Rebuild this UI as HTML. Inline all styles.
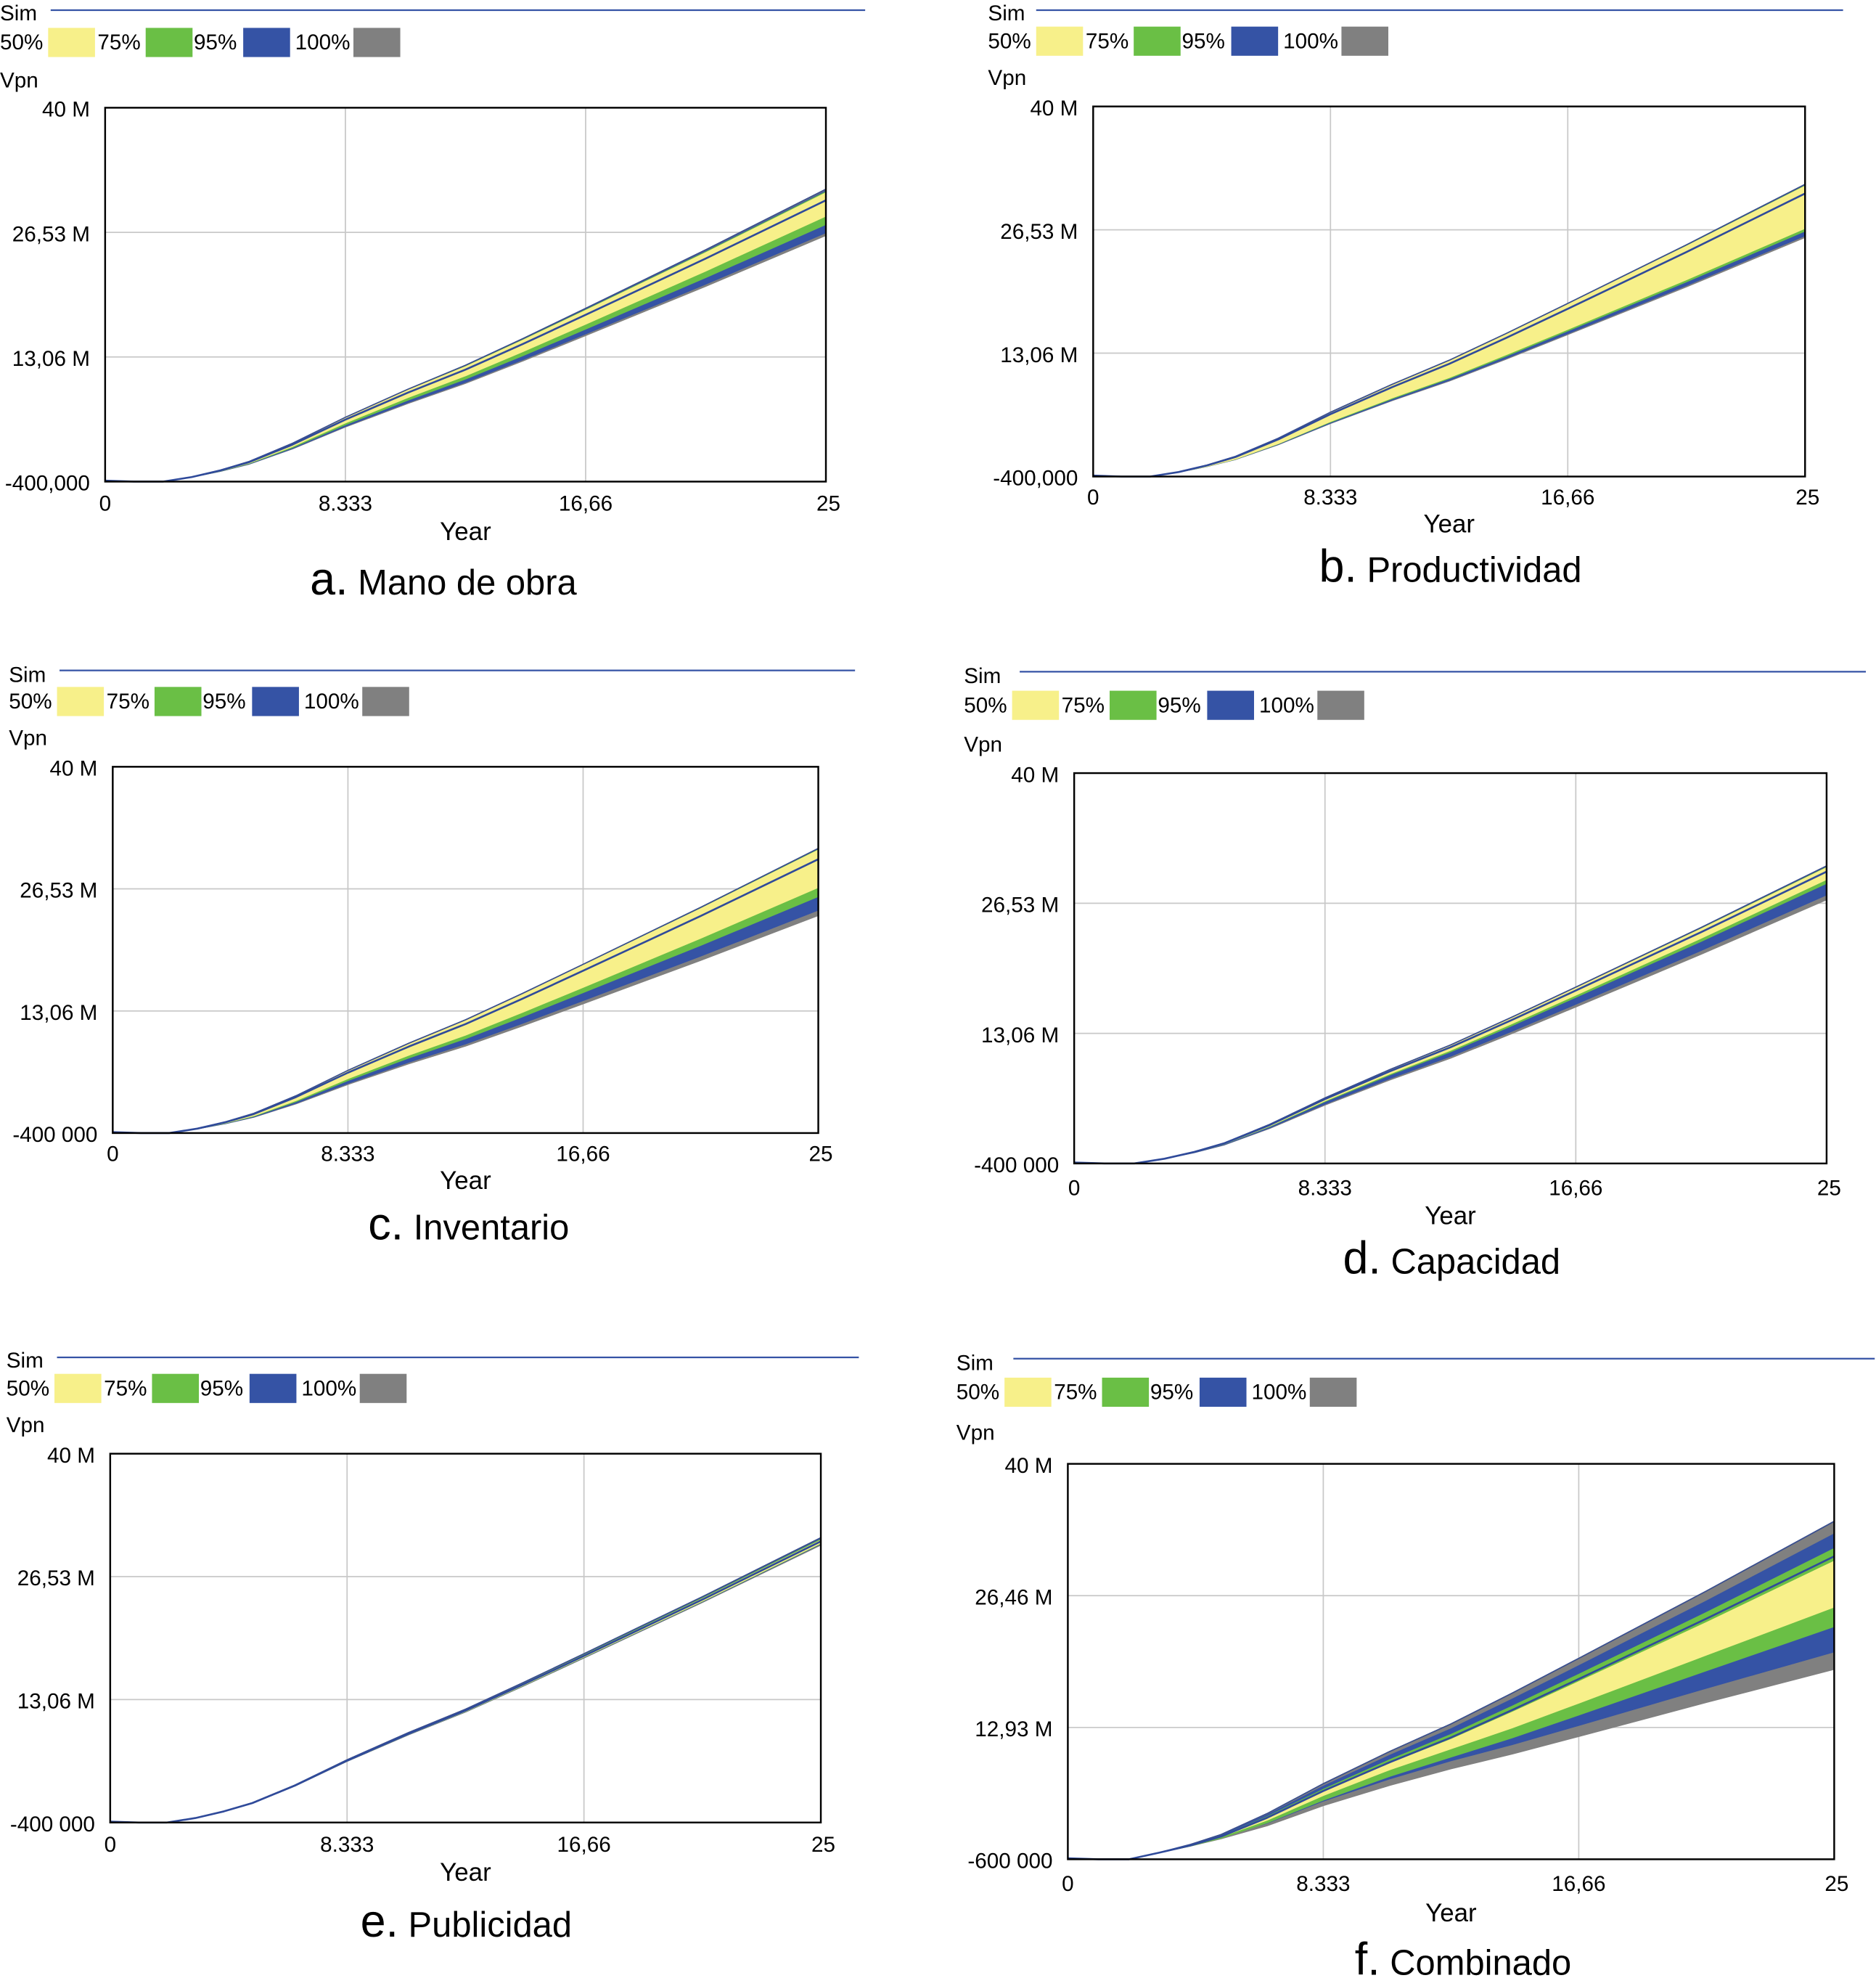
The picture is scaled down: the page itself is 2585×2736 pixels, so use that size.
<!DOCTYPE html>
<html><head><meta charset="utf-8"><style>
html,body{margin:0;padding:0;background:#fff;}
svg{display:block;font-family:"Liberation Sans",sans-serif;}
</style></head><body>
<svg id="root" width="2585" height="2736" viewBox="0 0 1481 1567" preserveAspectRatio="none" xmlns="http://www.w3.org/2000/svg"></svg>
<script>
const years=[0,1,2,3,4,5,6.5,8.333,10.5,12.5,14.5,16.66,20.83,25];
const xTickLabels=["0","8.333","16,66","25"];
const legendLabels=["50%","75%","95%","100%"];
// Panel a
const aHi100=[-0.3,-0.4,-0.4,.09,.84,1.78,3.74,6.55,9.58,12.17,15.07,18.31,24.65,31.2];
const aHi95=[-0.3,-0.4,-0.4,.09,.84,1.77,3.72,6.51,9.52,12.09,14.97,18.2,24.49,31];
const aHi75=[-0.3,-0.4,-0.4,.09,.83,1.76,3.71,6.49,9.49,12.05,14.92,18.14,24.41,30.9];
const aHi50=[-0.3,-0.4,-0.4,.09,.83,1.76,3.7,6.47,9.46,12.01,14.88,18.08,24.33,30.8];
const aLo50=[-0.3,-0.4,-0.4,.08,.76,1.61,3.4,5.94,8.69,11.04,13.67,16.61,22.36,28.3];
const aLo75=[-0.3,-0.4,-0.4,.08,.74,1.56,3.29,5.75,8.41,10.69,13.23,16.08,21.65,27.4];
const aLo95=[-0.3,-0.4,-0.4,.08,.72,1.51,3.18,5.57,8.14,10.34,12.8,15.56,20.94,26.5];
const aLo100=[-0.3,-0.4,-0.4,.08,.71,1.49,3.14,5.5,8.04,10.22,12.65,15.38,20.7,26.2];
const aMean=[-0.3,-0.4,-0.4,.09,.81,1.71,3.6,6.3,9.21,11.7,14.49,17.61,23.7,30];
// Panel b
const bHi100=[-0.3,-0.4,-0.4,.09,.85,1.8,3.78,6.62,9.67,12.29,15.21,18.49,24.89,31.5];
const bHi95=[-0.3,-0.4,-0.4,.09,.85,1.79,3.77,6.59,9.64,12.25,15.17,18.43,24.81,31.4];
const bHi75=[-0.3,-0.4,-0.4,.09,.85,1.79,3.76,6.58,9.62,12.23,15.14,18.4,24.77,31.35];
const bHi50=[-0.3,-0.4,-0.4,.09,.85,1.78,3.76,6.57,9.61,12.21,15.12,18.37,24.73,31.3];
const bLo50=[-0.3,-0.4,-0.4,.08,.72,1.52,3.2,5.61,8.2,10.41,12.9,15.67,21.09,26.7];
const bLo75=[-0.3,-0.4,-0.4,.08,.71,1.5,3.17,5.54,8.1,10.3,12.75,15.5,20.86,26.4];
const bLo95=[-0.3,-0.4,-0.4,.08,.7,1.48,3.11,5.44,7.95,10.1,12.51,15.2,20.46,25.9];
const bLo100=[-0.3,-0.4,-0.4,.08,.69,1.46,3.08,5.4,7.89,10.02,12.41,15.09,20.3,25.7];
const bMean=[-0.3,-0.4,-0.4,.09,.82,1.74,3.66,6.41,9.36,11.9,14.73,17.9,24.1,30.5];
// Panel c
const cHi100=[-0.3,-0.4,-0.4,.09,.84,1.77,3.72,6.51,9.52,12.09,14.97,18.2,24.49,31];
const cHi95=[-0.3,-0.4,-0.4,.09,.83,1.76,3.71,6.49,9.49,12.05,14.92,18.14,24.41,30.9];
const cHi75=[-0.3,-0.4,-0.4,.09,.83,1.76,3.7,6.48,9.47,12.03,14.9,18.11,24.37,30.85];
const cHi50=[-0.3,-0.4,-0.4,.09,.83,1.76,3.7,6.47,9.46,12.01,14.88,18.08,24.33,30.8];
const cLo50=[-0.3,-0.4,-0.4,.08,.72,1.52,3.2,5.61,8.2,10.41,12.9,15.67,21.09,26.7];
const cLo75=[-0.3,-0.4,-0.4,.08,.69,1.46,3.08,5.4,7.89,10.02,12.41,15.09,20.3,25.7];
const cLo95=[-0.3,-0.4,-0.4,.07,.65,1.38,2.9,5.08,7.43,9.44,11.69,14.21,19.12,24.2];
const cLo100=[-0.3,-0.4,-0.4,.07,.64,1.35,2.83,4.96,7.25,9.2,11.4,13.85,18.64,23.6];
const cMean=[-0.3,-0.4,-0.4,.09,.8,1.7,3.58,6.26,9.15,11.62,14.39,17.49,23.54,29.8];
// Panel d
const dHi100=[-0.3,-0.4,-0.4,.09,.82,1.73,3.65,6.38,9.33,11.86,14.68,17.84,24.02,30.4];
const dHi95=[-0.3,-0.4,-0.4,.09,.82,1.73,3.64,6.36,9.3,11.82,14.63,17.79,23.94,30.3];
const dHi75=[-0.3,-0.4,-0.4,.09,.82,1.72,3.63,6.35,9.29,11.8,14.61,17.76,23.9,30.25];
const dHi50=[-0.3,-0.4,-0.4,.09,.82,1.72,3.62,6.34,9.27,11.78,14.59,17.73,23.86,30.2];
const dLo50=[-0.3,-0.4,-0.4,.09,.78,1.65,3.48,6.09,8.9,11.31,14.01,17.02,22.91,29];
const dLo75=[-0.3,-0.4,-0.4,.09,.77,1.63,3.43,6.01,8.78,11.15,13.81,16.79,22.59,28.6];
const dLo95=[-0.3,-0.4,-0.4,.08,.74,1.56,3.29,5.75,8.41,10.69,13.23,16.08,21.65,27.4];
const dLo100=[-0.3,-0.4,-0.4,.08,.73,1.53,3.23,5.65,8.26,10.49,12.99,15.79,21.25,26.9];
const dMean=[-0.3,-0.4,-0.4,.09,.8,1.7,3.58,6.26,9.15,11.62,14.39,17.49,23.54,29.8];
// Panel e
const eHi100=[-0.3,-0.4,-0.4,.09,.83,1.76,3.7,6.47,9.46,12.01,14.88,18.08,24.33,30.8];
const eHi95=[-0.3,-0.4,-0.4,.09,.83,1.75,3.68,6.45,9.42,11.97,14.83,18.02,24.25,30.7];
const eHi75=[-0.3,-0.4,-0.4,.09,.83,1.74,3.67,6.43,9.39,11.93,14.78,17.96,24.17,30.6];
const eHi50=[-0.3,-0.4,-0.4,.09,.82,1.74,3.66,6.41,9.36,11.9,14.73,17.9,24.1,30.5];
const eLo50=[-0.3,-0.4,-0.4,.09,.82,1.72,3.62,6.34,9.27,11.78,14.59,17.73,23.86,30.2];
const eLo75=[-0.3,-0.4,-0.4,.09,.81,1.72,3.62,6.33,9.26,11.76,14.56,17.7,23.82,30.15];
const eLo95=[-0.3,-0.4,-0.4,.09,.81,1.72,3.61,6.32,9.24,11.74,14.54,17.67,23.78,30.1];
const eLo100=[-0.3,-0.4,-0.4,.09,.81,1.71,3.6,6.3,9.21,11.7,14.49,17.61,23.7,30];
const eMean=[-0.3,-0.4,-0.4,.09,.82,1.73,3.65,6.38,9.33,11.86,14.68,17.84,24.02,30.4];
// Panel f
const fHi100=[-0.5,-0.6,-0.6,.1,.92,1.94,4.09,7.16,10.47,13.3,16.47,20.02,26.94,34.1];
const fHi95=[-0.5,-0.6,-0.6,.1,.89,1.87,3.94,6.89,10.07,12.79,15.84,19.25,25.91,32.8];
const fHi75=[-0.5,-0.6,-0.6,.09,.85,1.78,3.76,6.57,9.61,12.21,15.12,18.37,24.73,31.3];
const fHi50=[-0.5,-0.6,-0.6,.09,.81,1.71,3.6,6.3,9.21,11.7,14.49,17.61,23.7,30];
const fLo50=[-0.5,-0.6,-0.6,.1,.83,1.72,3.42,5.95,8.6,10.75,12.9,15.43,20.37,25.3];
const fLo75=[-0.5,-0.6,-0.6,.09,.77,1.58,3.15,5.48,7.92,9.9,11.88,14.21,18.76,23.3];
const fLo95=[-0.5,-0.6,-0.6,.1,.83,1.66,3.11,5.38,7.66,9.52,11.18,13.14,16.97,20.7];
const fLo100=[-0.5,-0.6,-0.6,.09,.76,1.51,2.84,4.91,6.99,8.69,10.21,12.0,15.5,18.9];
const fMean=[-0.5,-0.6,-0.6,.09,.82,1.74,3.66,6.41,9.36,11.9,14.73,17.9,24.1,30.5];
const yMinAB=-0.4, yMinF=-0.6, yMax=40;
const yTickA=["40 M","26,53 M","13,06 M","-400,000"];
const yTickC=["40 M","26,53 M","13,06 M","-400 000"];
const yTickF=["40 M","26,46 M","12,93 M","-600 000"];

const panels=[
 {id:"a",cap:"Mano de obra",sx:0,sy:9,lx:40,lx2:683,ly:8,ley:33,vy:63,px:83,px2:652,py:85,py2:380,xl:397,yr:419,cx:350,cy:459,yt:yTickA,ymin:yMinAB,
  d:[aHi100,aHi95,aHi75,aHi50,aLo50,aLo75,aLo95,aLo100,aMean]},
 {id:"b",cap:"Productividad",sx:780,sy:9,lx:818,lx2:1455,ly:8,ley:32,vy:61,px:863,px2:1425,py:84,py2:376,xl:392,yr:413,cx:1145,cy:449,yt:yTickA,ymin:yMinAB,
  d:[bHi100,bHi95,bHi75,bHi50,bLo50,bLo75,bLo95,bLo100,bMean]},
 {id:"c",cap:"Inventario",sx:7,sy:531,lx:47,lx2:675,ly:529,ley:553,vy:582,px:89,px2:646,py:605,py2:894,xl:910,yr:931,cx:370,cy:968,yt:yTickC,ymin:yMinAB,
  d:[cHi100,cHi95,cHi75,cHi50,cLo50,cLo75,cLo95,cLo100,cMean]},
 {id:"d",cap:"Capacidad",sx:761,sy:532,lx:805,lx2:1473,ly:530,ley:556,vy:587,px:848,px2:1442,py:610,py2:918,xl:937,yr:959,cx:1146,cy:995,yt:yTickC,ymin:yMinAB,
  d:[dHi100,dHi95,dHi75,dHi50,dLo50,dLo75,dLo95,dLo100,dMean]},
 {id:"e",cap:"Publicidad",sx:5,sy:1072,lx:45,lx2:678,ly:1071,ley:1095,vy:1124,px:87,px2:648,py:1147,py2:1438,xl:1455,yr:1477,cx:368,cy:1518,yt:yTickC,ymin:yMinAB,
  d:[eHi100,eHi95,eHi75,eHi50,eLo50,eLo75,eLo95,eLo100,eMean]},
 {id:"f",cap:"Combinado",sx:755,sy:1074,lx:800,lx2:1480,ly:1072,ley:1098,vy:1130,px:843,px2:1448,py:1155,py2:1467,xl:1486,yr:1509,cx:1155,cy:1548,yt:yTickF,ymin:yMinF,
  d:[fHi100,fHi95,fHi75,fHi50,fLo50,fLo75,fLo95,fLo100,fMean]}
];
const NS="http://www.w3.org/2000/svg";
const root=document.getElementById("root");
function mk(tag,attrs,parent,txt){const e=document.createElementNS(NS,tag);for(const k in attrs)e.setAttribute(k,attrs[k]);if(txt!=null)e.textContent=txt;parent.appendChild(e);return e;}
const colors=["#808080","#3553a5","#6abf45","#f7f08a"];
const legColors=["#f7f08a","#6abf45","#3553a5","#808080"];
panels.forEach(p=>{
 const g=mk("g",{},root);
 
 
 const sim=mk("text",{x:p.sx,y:p.sy+7,"font-size":17},g,"Sim");
 
 
 const sl=mk("line",{x1:p.lx,x2:p.lx2,y1:p.ly,y2:p.ly,stroke:"#3553a5","stroke-width":1.3},g);
 
 
 const offs=[0,77,153,233], boxOffs=[38,115,192,279];
 legendLabels.forEach((l,i)=>{
  const t=mk("text",{x:p.sx+offs[i],y:p.ley+6,"font-size":17},g,l);
  
  
  const r=mk("rect",{x:p.sx+boxOffs[i],y:p.ley-11,width:37,height:23,fill:legColors[i]},g);
  
  
 });
 const vpn=mk("text",{x:p.sx,y:p.vy+6,"font-size":17},g,"Vpn");
 
 
 const X=v=>p.px+(v-0)/(25-0)*(p.px2-p.px);
 const Y=v=>p.py2-(v-p.ymin)/(yMax-p.ymin)*(p.py2-p.py);
 for(let i=1;i<3;i++){
  const gx=p.px+i*(p.px2-p.px)/3, gy=p.py+i*(p.py2-p.py)/3;
  const l1=mk("line",{x1:gx,x2:gx,y1:p.py,y2:p.py2,stroke:"#c8c8c8","stroke-width":1},g);
  
  
  const l2=mk("line",{x1:p.px,x2:p.px2,y1:gy,y2:gy,stroke:"#c8c8c8","stroke-width":1},g);
  
  
 }
 const bandNames=["band-100","band-95","band-75","band-50"];
 for(let b=0;b<4;b++){
  const hi=p.d[b], lo=p.d[7-b];
  let pts=years.map((t,i)=>X(t)+","+Y(hi[i]));
  pts=pts.concat(years.map((t,i)=>X(t)+","+Y(lo[i])).reverse());
  const poly=mk("polygon",{points:pts.join(" "),fill:colors[b],stroke:colors[b],"stroke-width":0.8,"stroke-linejoin":"round"},g);
  
  
 }
 const top=mk("polyline",{points:years.map((t,i)=>X(t)+","+Y(p.d[0][i])).join(" "),fill:"none",stroke:"#3a4f8f","stroke-width":1,"stroke-linejoin":"round"},g);
 
 
 const mean=mk("polyline",{points:years.map((t,i)=>X(t)+","+Y(p.d[8][i])).join(" "),fill:"none",stroke:"#2f4a9a","stroke-width":1.5,"stroke-linejoin":"round"},g);
 
 
 const frame=mk("rect",{x:p.px,y:p.py,width:p.px2-p.px,height:p.py2-p.py,fill:"none",stroke:"#000","stroke-width":1.4},g);
 
 
 p.yt.forEach((l,i)=>{
  const t=mk("text",{x:p.px-12,y:p.py+i*(p.py2-p.py)/3+7,"font-size":17,"text-anchor":"end"},g,l);
  
  
 });
 xTickLabels.forEach((l,i)=>{
  const t=mk("text",{x:p.px+i*(p.px2-p.px)/3+(i==3?2:0),y:p.xl+6,"font-size":17,"text-anchor":"middle"},g,l);
  
  
 });
 const yr=mk("text",{x:(p.px+p.px2)/2,y:p.yr+7,"font-size":20,"text-anchor":"middle"},g,"Year");
 
 
 const cap=mk("text",{x:p.cx,y:p.cy+10,"font-size":28,"text-anchor":"middle"},g);
 
 
 mk("tspan",{"font-size":36},cap,p.id+".");
 mk("tspan",{},cap," "+p.cap);
});
</script>
</body></html>
